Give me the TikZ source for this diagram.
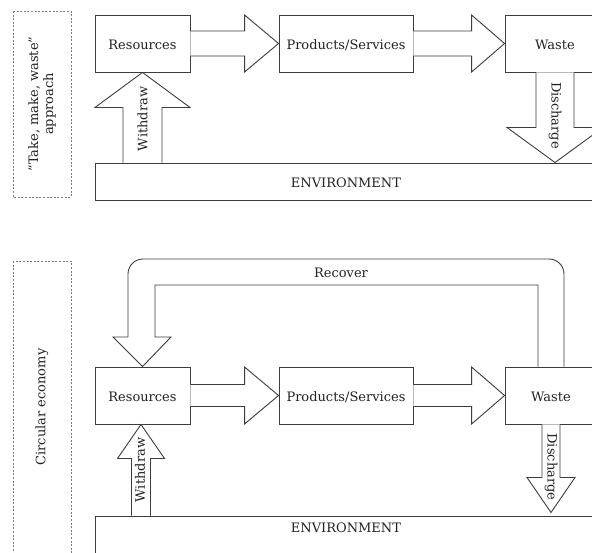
\documentclass[tikz,border=0pt]{standalone}
\usepackage{fontspec}
\setmainfont{DejaVu Serif}
\usetikzlibrary{calc}
\definecolor{linegray}{HTML}{3C3C3C}
\definecolor{textgray}{HTML}{222222}
\definecolor{framegray}{HTML}{7A7A7A}
\begin{document}
\begin{tikzpicture}[x=1pt,y=-1pt,
  box/.style={draw=linegray, line width=0.9pt, fill=white, minimum height=57pt,
    inner sep=0pt, text=textgray, font=\fontsize{13}{15}\selectfont,
    text height=12pt, text depth=0pt},
  envbox/.style={draw=linegray, line width=1pt, fill=white, inner sep=0pt},
  blk/.style={draw=linegray, line width=0.9pt, fill=white, line join=miter},
  lbl/.style={text=textgray, inner sep=0pt, font=\fontsize{13}{15}\selectfont},
  frame/.style={draw=framegray, line width=1pt, dash pattern=on 2pt off 1.6pt}]
\useasboundingbox (0,0) rectangle (592,552);
\clip (0,0) rectangle (592,552);

% ---------- linear model ----------
\draw[frame] (13,11) rectangle (71,197);
\node[lbl, rotate=90, align=center] (labA) at (42,104)
  {"Take, make, waste"\\approach};

\node[box, minimum width=95pt]  (res)   at (142.5,43.5) {Resources};
\node[box, minimum width=134pt] (prod)  at (346,43.5)   {Products/Services};
\node[box, minimum width=100pt] (waste) at (555,43.5)   {Waste};
\node[envbox, minimum width=502pt, minimum height=37pt] (envA) at (346,181.5) {};
\node[lbl] at (346,183) {ENVIRONMENT};

% flow arrows
\draw[blk] ($(res.east)+(0,-12.5)$) -- ($(prod.west)+(-34,-12.5)$)
  -- ($(prod.west)+(-34,-28.5)$) -- (prod.west) -- ($(prod.west)+(-34,28.5)$)
  -- ($(prod.west)+(-34,12.5)$) -- ($(res.east)+(0,12.5)$);
\draw[blk] ($(prod.east)+(0,-12.5)$) -- ($(waste.west)+(-33,-12.5)$)
  -- ($(waste.west)+(-33,-28.5)$) -- (waste.west) -- ($(waste.west)+(-33,28.5)$)
  -- ($(waste.west)+(-33,12.5)$) -- ($(prod.east)+(0,12.5)$);

% withdraw
\coordinate (wA) at (res.south |- envA.north);
\draw[blk] ($(wA)+(-19.5,0)$) -- ($(res.south)+(-19.5,35)$)
  -- ($(res.south)+(-47.5,35)$) -- (res.south) -- ($(res.south)+(47.5,35)$)
  -- ($(res.south)+(19.5,35)$) -- ($(wA)+(19.5,0)$);
\node[lbl, rotate=90] at ($(res.south)!0.5!(wA)+(0,1.5)$) {Withdraw};

% discharge
\coordinate (dA) at (waste.south |- envA.north);
\draw[blk] ($(waste.south)+(-19,0)$) -- ($(dA)+(-19,-35)$)
  -- ($(dA)+(-48,-35)$) -- (dA) -- ($(dA)+(48,-35)$)
  -- ($(dA)+(19,-35)$) -- ($(waste.south)+(19,0)$);
\node[lbl, rotate=-90] at ($(waste.south)!0.5!(dA)+(0,-2)$) {Discharge};

% ---------- circular model ----------
\draw[frame] (13,261) rectangle (71,560);
\node[lbl, rotate=90] (labB) at (42,407) {Circular economy};

\node[box, minimum width=95pt]  (res2)   at (142.5,395.5) {Resources};
\node[box, minimum width=134pt] (prod2)  at (346,395.5)   {Products/Services};
\node[box, minimum width=92pt]  (waste2) at (551,395.5)   {Waste};
\node[envbox, minimum width=502pt, minimum height=64pt] (envB) at (346,548) {};
\node[lbl] at (346,528) {ENVIRONMENT};

% flow arrows
\draw[blk] ($(res2.east)+(0,-11)$) -- ($(prod2.west)+(-34,-11)$)
  -- ($(prod2.west)+(-34,-28.5)$) -- (prod2.west) -- ($(prod2.west)+(-34,28.5)$)
  -- ($(prod2.west)+(-34,11)$) -- ($(res2.east)+(0,11)$);
\draw[blk] ($(prod2.east)+(0,-11)$) -- ($(waste2.west)+(-33,-11)$)
  -- ($(waste2.west)+(-33,-28.5)$) -- (waste2.west) -- ($(waste2.west)+(-33,28.5)$)
  -- ($(waste2.west)+(-33,11)$) -- ($(prod2.east)+(0,11)$);

% recover loop
\draw[blk] ($(waste2.north)+(13,0)$) -- (564,274)
  arc[start angle=0, end angle=90, radius=15pt] -- (143,259)
  arc[start angle=90, end angle=180, radius=15pt] -- (128,337)
  -- (113,337) -- (res2.north) -- (171,337) -- (155,337) -- (155,285)
  -- (538,285) -- ($(waste2.north)+(-13,0)$);
\node[lbl] at (341,273) {Recover};

% withdraw
\coordinate (tB) at ($(res2.south)+(-1.5,0)$);
\coordinate (wB) at (tB |- envB.north);
\draw[blk] ($(wB)+(-9.5,0)$) -- ($(tB)+(-9.5,34)$)
  -- ($(tB)+(-23.5,34)$) -- (tB) -- ($(tB)+(23.5,34)$)
  -- ($(tB)+(9.5,34)$) -- ($(wB)+(9.5,0)$);
\node[lbl, rotate=90] at (140,470) {Withdraw};

% discharge
\coordinate (dB) at ($(waste2.south |- envB.north)+(0,-3)$);
\draw[blk] ($(waste2.south)+(-9,0)$) -- ($(dB)+(-9,-35)$)
  -- ($(dB)+(-24,-35)$) -- (dB) -- ($(dB)+(24,-35)$)
  -- ($(dB)+(9,-35)$) -- ($(waste2.south)+(9,0)$);
\node[lbl, rotate=-90] at (551,467) {Discharge};
\end{tikzpicture}
\end{document}
